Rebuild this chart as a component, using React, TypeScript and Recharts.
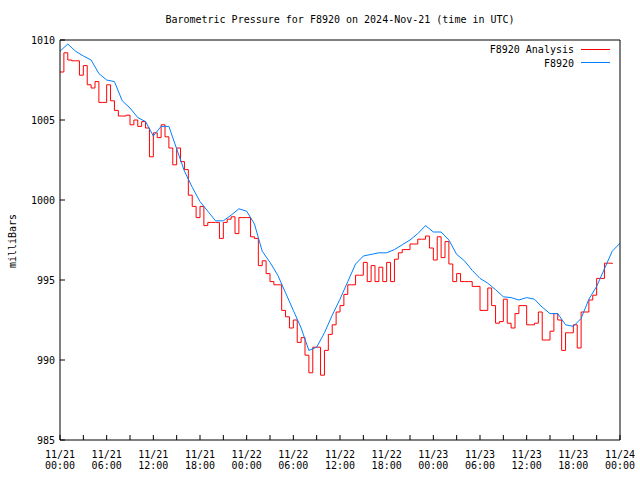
import React from 'react';
import { LineChart, Line, XAxis, YAxis, Legend } from 'recharts';

const FONT = '"DejaVu Sans Mono", "Liberation Mono", monospace';
const TITLE = 'Barometric Pressure for F8920 on 2024-Nov-21 (time in UTC)';

const seriesNames = ['F8920 Analysis', 'F8920'];
const seriesColors = ['#ff0000', '#0080ff'];

// hours since 11/21 00:00, ticks every 3h, labels every 6h
const hourTicks = [0, 3, 6, 9, 12, 15, 18, 21, 24, 27, 30, 33, 36, 39, 42, 45, 48, 51, 54, 57, 60, 63, 66, 69, 72];
const tickDates = ['11/21', '11/21', '11/21', '11/21', '11/22', '11/22', '11/22', '11/22', '11/23', '11/23', '11/23', '11/23', '11/24'];
const tickTimes = ['00:00', '06:00', '12:00', '18:00', '00:00', '06:00', '12:00', '18:00', '00:00', '06:00', '12:00', '18:00', '00:00'];
const pressureTicks = [985, 990, 995, 1000, 1005, 1010];

// F8920 analysis, one value every half hour from 11/21 00:00
const analysisValues = [
  1008.0, 1009.2, 1008.75, 1008.7, 1008.7, 1007.8, 1008.4, 1007.2, 1007.0, 1007.4,
  1006.1, 1006.1, 1007.2, 1006.2, 1005.6, 1005.25, 1005.25, 1005.3, 1004.7, 1005.0,
  1004.6, 1004.9, 1004.5, 1002.7, 1004.2, 1003.9, 1004.7, 1003.95, 1003.25, 1002.2,
  1003.25, 1002.4, 1001.9, 1000.3, 999.6, 998.9, 999.6, 998.4, 998.6, 998.6,
  998.6, 997.6, 998.6, 998.8, 998.95, 997.9, 998.9, 998.9, 998.9, 997.7,
  997.6, 995.9, 996.2, 995.4, 994.9, 994.7, 994.7, 993.1, 992.7, 992.0,
  992.5, 991.1, 991.4, 990.3, 989.2, 990.8, 990.8, 989.05, 990.6, 991.6,
  992.2, 993.0, 993.4, 994.1, 994.7, 994.7, 995.3, 995.3, 996.1, 994.9,
  995.9, 994.9, 995.8, 994.9, 996.1, 994.9, 996.3, 996.7, 996.9, 996.9,
  997.25, 997.25, 997.55, 997.55, 997.75, 997.0, 996.25, 997.7, 996.4, 997.4,
  996.0, 994.9, 995.4, 994.9, 994.9, 994.9, 994.6, 994.6, 993.1, 993.1,
  994.5, 993.4, 992.3, 992.4, 993.8, 992.3, 992.0, 992.9, 993.4, 993.4,
  992.2, 992.2, 992.3, 993.0, 991.25, 991.25, 991.8, 992.9, 992.5, 990.6,
  991.7, 991.7, 992.2, 990.75, 993.0, 993.0, 993.75, 994.05, 995.1, 995.1,
  996.05, 996.05, 996.0,
];

// F8920 observed, hourly from 11/21 00:00
const observedValues = [
  1009.3, 1009.75, 1009.3, 1009.0, 1008.75, 1007.9, 1007.5, 1007.4, 1006.2, 1005.75,
  1005.15, 1004.9, 1004.0, 1004.6, 1004.6, 1003.2, 1001.8, 1000.8, 999.9, 999.3,
  998.7, 998.7, 999.05, 999.45, 999.3, 998.5, 996.8, 996.1, 995.3, 994.2,
  993.1, 992.0, 990.6, 990.8, 991.7, 992.8, 993.8, 994.9, 996.0, 996.5,
  996.6, 996.7, 996.7, 996.9, 997.2, 997.5, 997.9, 998.4, 998.0, 998.0,
  997.5, 996.6, 996.2, 995.6, 995.1, 994.8, 994.4, 993.95, 993.9, 993.75,
  993.9, 993.8, 993.3, 992.9, 992.9, 992.2, 992.1, 992.6, 993.8, 994.6,
  995.7, 996.8, 997.3,
];

const analysisData = analysisValues.map((v, i) => ({ h: i * 0.5, p: v }));
const observedData = observedValues.map((v, i) => ({ h: i, p: v }));

const TICK_LEN = 5;

// bottom axis: inward tick + two-line date/time label every 6h
function BottomTick(props: any) {
  const { x, y, payload } = props;
  const h = payload.value;
  const i = h / 6;
  return (
    <g>
      <line x1={x} x2={x} y1={y} y2={y - TICK_LEN} stroke="#000" />
      {h % 6 === 0 ? (
        <g fontFamily={FONT} fontSize={10} fill="#000">
          <text x={x} y={y + 18} textAnchor="middle">{tickDates[i]}</text>
          <text x={x} y={y + 29} textAnchor="middle">{tickTimes[i]}</text>
        </g>
      ) : null}
    </g>
  );
}

function TopTick(props: any) {
  const { x, y } = props;
  return <line x1={x} x2={x} y1={y} y2={y + TICK_LEN} stroke="#000" />;
}

function LeftTick(props: any) {
  const { x, y, payload } = props;
  return (
    <g>
      <line x1={x} x2={x + TICK_LEN} y1={y} y2={y} stroke="#000" />
      <text x={x - 5} y={y} dy="0.355em" textAnchor="end" fontFamily={FONT} fontSize={10} fill="#000">
        {payload.value}
      </text>
    </g>
  );
}

function RightTick(props: any) {
  const { x, y } = props;
  return <line x1={x} x2={x - TICK_LEN} y1={y} y2={y} stroke="#000" />;
}

function LegendBox() {
  return (
    <svg width={640} height={70} style={{ display: 'block' }}>
      {seriesNames.map((name, i) => (
        <g key={name}>
          <text x={574} y={53 + 13.5 * i} textAnchor="end" fontFamily={FONT} fontSize={10} fill="#000">
            {name}
          </text>
          <line x1={581} x2={610} y1={49.5 + 13 * i} y2={49.5 + 13 * i} stroke={seriesColors[i]} strokeWidth={1} />
        </g>
      ))}
    </svg>
  );
}

export default function App() {
  return (
    <div style={{ position: 'absolute', left: 0, top: 0, width: 640, height: 480, background: '#fff' }}>
      <LineChart width={640} height={480} margin={{ top: 39, right: 19, bottom: 0, left: 0 }}>
        <XAxis
          xAxisId="bottom"
          type="number"
          dataKey="h"
          domain={[0, 72]}
          ticks={hourTicks}
          interval={0}
          allowDataOverflow
          height={40}
          stroke="#000"
          tickLine={false}
          tickSize={0}
          tickMargin={0}
          tick={<BottomTick />}
        />
        <XAxis
          xAxisId="top"
          orientation="top"
          type="number"
          dataKey="h"
          domain={[0, 72]}
          ticks={hourTicks}
          interval={0}
          height={1}
          stroke="#000"
          tickLine={false}
          tickSize={0}
          tickMargin={0}
          tick={<TopTick />}
          label={{
            content: () => (
              <text x={340} y={23} textAnchor="middle" fontFamily={FONT} fontSize={10} fill="#000">
                {TITLE}
              </text>
            ),
          }}
        />
        <YAxis
          yAxisId="left"
          type="number"
          domain={[985, 1010]}
          ticks={pressureTicks}
          interval={0}
          allowDataOverflow
          width={60}
          stroke="#000"
          tickLine={false}
          tickSize={0}
          tickMargin={0}
          tick={<LeftTick />}
          label={{
            content: () => (
              <text x={16} y={241} transform="rotate(-90 16 241)" textAnchor="middle" fontFamily={FONT} fontSize={10} fill="#000">
                milliBars
              </text>
            ),
          }}
        />
        <YAxis
          yAxisId="right"
          orientation="right"
          type="number"
          domain={[985, 1010]}
          ticks={pressureTicks}
          interval={0}
          width={1}
          stroke="#000"
          tickLine={false}
          tickSize={0}
          tickMargin={0}
          tick={<RightTick />}
        />
        <Legend
          layout="horizontal"
          verticalAlign="middle"
          align="center"
          wrapperStyle={{ left: 0, top: 0, width: 640, height: 70 }}
          content={() => <LegendBox />}
        />
        <Line
          xAxisId="bottom"
          yAxisId="left"
          data={analysisData}
          dataKey="p"
          type="stepAfter"
          stroke={seriesColors[0]}
          strokeWidth={1}
          dot={false}
          isAnimationActive={false}
        />
        <Line
          xAxisId="bottom"
          yAxisId="left"
          data={observedData}
          dataKey="p"
          type="linear"
          stroke={seriesColors[1]}
          strokeWidth={1}
          dot={false}
          isAnimationActive={false}
        />
      </LineChart>
    </div>
  );
}
